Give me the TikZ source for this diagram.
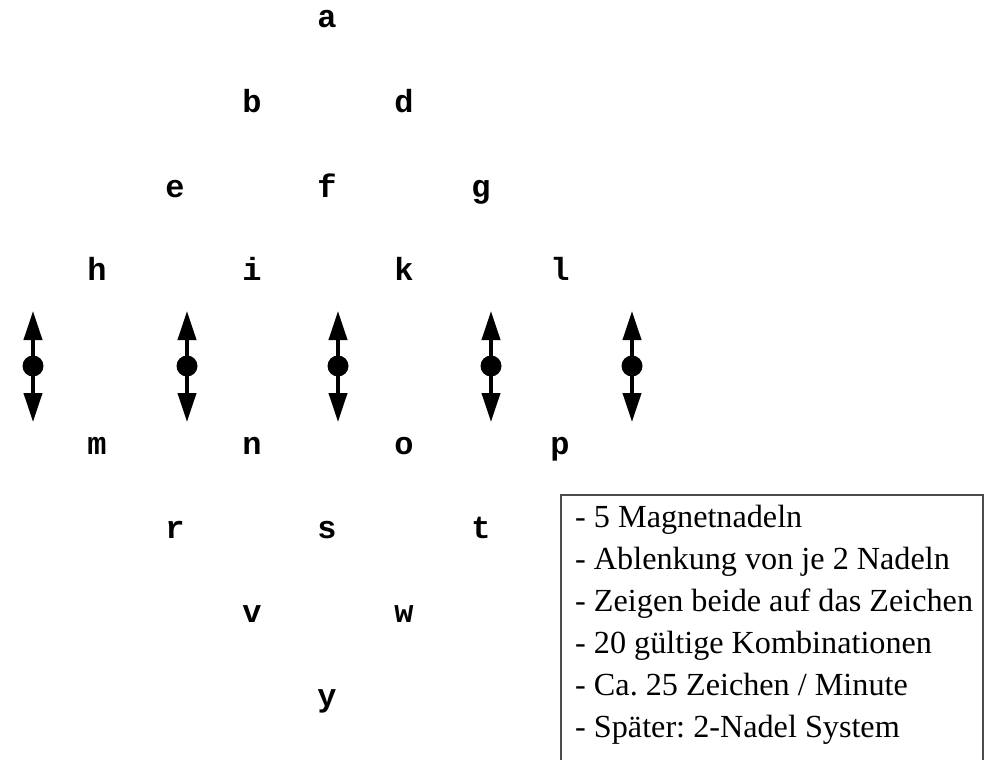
\documentclass[tikz,border=0pt]{standalone}
\usepackage{fontspec}
\setmainfont{Liberation Serif}
\newfontfamily\lettfont{Liberation Mono}[UprightFont=* Bold]
\usetikzlibrary{arrows.meta}
\frenchspacing
\begin{document}
\begin{tikzpicture}[x=1pt,y=-1pt,
  letter/.style={anchor=base, inner sep=0pt, font=\lettfont\fontsize{32}{32}\selectfont},
  needle/.style={line width=4pt, {Triangle[length=29pt,width=18pt]}-{Triangle[length=29pt,width=18pt]}},
  pivot/.style={circle, fill=black, minimum size=21pt, inner sep=0pt},
  info/.style={anchor=base west, inner sep=0pt, font=\frenchspacing\fontsize{32.2}{40}\selectfont},
  boxline/.style={draw=black!70, line width=1.2pt}
]
\useasboundingbox (0,0) rectangle (991,760);
% letters
\node[letter] (a) at (327,28) {a};
\node[letter] (b) at (252,112) {b};
\node[letter] (d) at (404,112) {d};
\node[letter] (e) at (175,197) {e};
\node[letter] (f) at (327,197) {f};
\node[letter] (g) at (481,197) {g};
\node[letter] (h) at (97,280) {h};
\node[letter] (i) at (252,280) {i};
\node[letter] (k) at (404,280) {k};
\node[letter] (l) at (560,280) {l};
\node[letter] (m) at (97,454) {m};
\node[letter] (n) at (252,454) {n};
\node[letter] (o) at (404,454) {o};
\node[letter] (p) at (560,454) {p};
\node[letter] (r) at (175,538) {r};
\node[letter] (s) at (327,538) {s};
\node[letter] (t) at (481,538) {t};
\node[letter] (v) at (252,622) {v};
\node[letter] (w) at (404,622) {w};
\node[letter] (y) at (327,706) {y};
% needles
\foreach \nx/\nn in {33/1,187/2,338/3,491/4,632/5}{
  \coordinate (nt\nn) at (\nx,311);
  \coordinate (nb\nn) at (\nx,422);
  \draw[needle] (nt\nn) -- (nb\nn);
  \node[pivot] (nc\nn) at (\nx,366) {};
}
% info box
\draw[boxline] (561,780) -- (561,495) -- (983,495) -- (983,780);
\node[info] (t1) at (575,527) {- 5 Magnetnadeln};
\node[info] (t2) at (575,569) {- Ablenkung von je 2 Nadeln};
\node[info] (t3) at (575,611) {- Zeigen beide auf das Zeichen};
\node[info] (t4) at (575,653) {- 20 gültige Kombinationen};
\node[info] (t5) at (575,695) {- Ca. 25 Zeichen / Minute};
\node[info] (t6) at (575,737) {- Später: 2-Nadel System};
\end{tikzpicture}
\end{document}
